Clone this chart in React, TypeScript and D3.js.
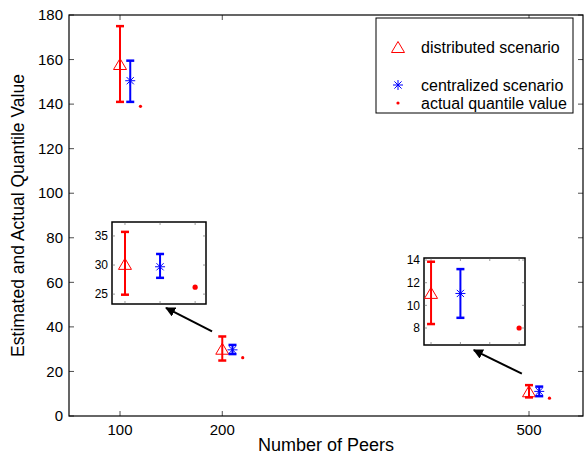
import * as d3 from "d3";
import React from "react";

// number of peers (x positions)
const peers = [100, 200, 500];

// distributed scenario: estimate with error range
const distMean = [158, 30.2, 11.1];
const distLow = [141, 24.9, 8.35];
const distHigh = [175, 35.7, 13.85];

// centralized scenario
const centMean = [150.5, 29.7, 11.05];
const centLow = [141, 27.8, 8.9];
const centHigh = [159.5, 31.9, 13.2];

// actual quantile value
const actual = [139, 26.2, 8.0];

const yTicks = [0, 20, 40, 60, 80, 100, 120, 140, 160, 180];
const xTicks = [100, 200, 500];

// zoomed insets
const inset200Ticks = [25, 30, 35];
const inset500Ticks = [8, 10, 12, 14];

const W = 587;
const H = 457;
const FONT = "'Liberation Sans', Arial, Helvetica, sans-serif";
const RED = "#ff0000";
const BLUE = "#0000ff";

const margin = { left: 69, right: 4, top: 15, bottom: 41 };

function Triangle({ x, y, color }: { x: number; y: number; color: string }) {
  const w = 6.5;
  const h = 5.5;
  return (
    <path
      d={`M${x},${y - h}L${x + w},${y + h}L${x - w},${y + h}Z`}
      fill="none"
      stroke={color}
      strokeWidth={1}
    />
  );
}

function Star({ x, y, color }: { x: number; y: number; color: string }) {
  const r = 5;
  const d = r * 0.72;
  return (
    <path
      d={`M${x - r},${y}H${x + r}M${x},${y - r}V${y + r}M${x - d},${y - d}L${x + d},${y + d}M${x - d},${y + d}L${x + d},${y - d}`}
      stroke={color}
      strokeWidth={1}
      fill="none"
    />
  );
}

function ErrBar({
  x,
  y1,
  y2,
  color,
  cap,
}: {
  x: number;
  y1: number;
  y2: number;
  color: string;
  cap: number;
}) {
  return (
    <g stroke={color} strokeWidth={2} fill="none">
      <line x1={x} x2={x} y1={y1} y2={y2} />
      <line x1={x - cap} x2={x + cap} y1={y1} y2={y1} strokeWidth={2.5} />
      <line x1={x - cap} x2={x + cap} y1={y2} y2={y2} strokeWidth={2.5} />
    </g>
  );
}

function Inset({
  idx,
  box,
  xDomain,
  yDomain,
  ticks,
  xs,
}: {
  idx: number;
  box: { x: number; y: number; w: number; h: number };
  xDomain: [number, number];
  yDomain: [number, number];
  ticks: number[];
  xs: number[];
}) {
  const sx = d3.scaleLinear().domain(xDomain).range([box.x, box.x + box.w]);
  const sy = d3.scaleLinear().domain(yDomain).range([box.y + box.h, box.y]);
  const xt = d3.range(xs[0], xDomain[1], xs[1] - xs[0]);
  return (
    <g>
      <rect x={box.x} y={box.y} width={box.w} height={box.h} fill="white" stroke="black" strokeWidth={1.5} />
      {ticks.map((t) => (
        <g key={t}>
          <line x1={box.x} x2={box.x + 3} y1={sy(t)} y2={sy(t)} stroke="#555" strokeWidth={0.6} />
          <line x1={box.x + box.w} x2={box.x + box.w - 3} y1={sy(t)} y2={sy(t)} stroke="#555" strokeWidth={0.6} />
          <text x={box.x - 4} y={sy(t)} dy="0.35em" textAnchor="end" fontSize={12}>
            {t}
          </text>
        </g>
      ))}
      {xt.map((t) => (
        <g key={t}>
          <line x1={sx(t)} x2={sx(t)} y1={box.y} y2={box.y + 3} stroke="#555" strokeWidth={0.6} />
          <line x1={sx(t)} x2={sx(t)} y1={box.y + box.h} y2={box.y + box.h - 3} stroke="#555" strokeWidth={0.6} />
        </g>
      ))}
      <ErrBar x={sx(xs[0])} y1={sy(distHigh[idx])} y2={sy(distLow[idx])} color={RED} cap={4} />
      <Triangle x={sx(xs[0])} y={sy(distMean[idx])} color={RED} />
      <ErrBar x={sx(xs[1])} y1={sy(centHigh[idx])} y2={sy(centLow[idx])} color={BLUE} cap={4} />
      <Star x={sx(xs[1])} y={sy(centMean[idx])} color={BLUE} />
      <circle cx={sx(xs[2])} cy={sy(actual[idx])} r={2.6} fill={RED} />
    </g>
  );
}

export default function App() {
  const x = d3
    .scaleLinear()
    .domain([50.1, 552.8])
    .range([margin.left, W - margin.right]);
  const y = d3
    .scaleLinear()
    .domain([0, 180])
    .range([H - margin.bottom, margin.top]);

  const x0 = margin.left;
  const x1 = W - margin.right;
  const y0 = H - margin.bottom;
  const y1 = margin.top;

  // arrow annotations in data coords
  const arrows = [
    { from: [190, 38], to: [145, 48.5] },
    { from: [493, 19], to: [446, 29.6] },
  ];

  return (
    <svg
      width={W}
      height={H}
      style={{ position: "absolute", left: 0, top: 0, background: "white" }}
      fontFamily={FONT}
    >
      <defs>
        <marker id="ah" viewBox="0 0 10 10" refX="9" refY="5" markerWidth="5" markerHeight="5" orient="auto">
          <path d="M0,0L10,5L0,10Z" fill="black" />
        </marker>
      </defs>
      <rect x={0} y={0} width={W} height={H} fill="white" />

      {/* ticks */}
      {yTicks.map((t) => (
        <g key={t}>
          <line x1={x0} x2={x0 + 5} y1={y(t)} y2={y(t)} stroke="black" strokeWidth={0.7} />
          <line x1={x1} x2={x1 - 5} y1={y(t)} y2={y(t)} stroke="black" strokeWidth={0.7} />
          <text x={x0 - 6} y={y(t)} dy="0.35em" textAnchor="end" fontSize={15}>
            {t}
          </text>
        </g>
      ))}
      {xTicks.map((t) => (
        <g key={t}>
          <line x1={x(t)} x2={x(t)} y1={y0} y2={y0 - 5} stroke="black" strokeWidth={0.7} />
          <line x1={x(t)} x2={x(t)} y1={y1} y2={y1 + 5} stroke="black" strokeWidth={0.7} />
          <text x={x(t)} y={y0 + 19} textAnchor="middle" fontSize={15}>
            {t}
          </text>
        </g>
      ))}
      <rect x={x0} y={y1} width={x1 - x0} height={y0 - y1} fill="none" stroke="black" strokeWidth={1.2} />

      {/* data */}
      {peers.map((p, i) => (
        <g key={p}>
          <ErrBar x={x(p)} y1={y(distHigh[i])} y2={y(distLow[i])} color={RED} cap={4} />
          <Triangle x={x(p)} y={y(distMean[i])} color={RED} />
          <ErrBar x={x(p + 10)} y1={y(centHigh[i])} y2={y(centLow[i])} color={BLUE} cap={4} />
          <Star x={x(p + 10)} y={y(centMean[i])} color={BLUE} />
          <circle cx={x(p + 20)} cy={y(actual[i])} r={1.6} fill={RED} />
        </g>
      ))}

      {/* insets */}
      <Inset
        idx={1}
        box={{ x: 112, y: 222, w: 94, h: 82 }}
        xDomain={[196.3, 223.1]}
        yDomain={[23.3, 37.4]}
        ticks={inset200Ticks}
        xs={[200, 210, 220]}
      />
      <Inset
        idx={2}
        box={{ x: 424, y: 258, w: 101, h: 87 }}
        xDomain={[497.6, 532]}
        yDomain={[6.5, 14.18]}
        ticks={inset500Ticks}
        xs={[500, 510, 530]}
      />

      {arrows.map((a, i) => (
        <line
          key={i}
          x1={x(a.from[0])}
          y1={y(a.from[1])}
          x2={x(a.to[0])}
          y2={y(a.to[1])}
          stroke="black"
          strokeWidth={2}
          markerEnd="url(#ah)"
        />
      ))}

      {/* legend */}
      <g>
        <rect x={376} y={18} width={197} height={95} fill="white" stroke="black" strokeWidth={1} />
        <Triangle x={398} y={47} color={RED} />
        <text x={421} y={47} dy="0.35em" fontSize={16}>
          distributed scenario
        </text>
        <Star x={398} y={85} color={BLUE} />
        <text x={421} y={85} dy="0.35em" fontSize={16}>
          centralized scenario
        </text>
        <circle cx={398} cy={103} r={1.6} fill={RED} />
        <text x={421} y={103} dy="0.35em" fontSize={16}>
          actual quantile value
        </text>
      </g>

      {/* axis labels */}
      <text x={(x0 + x1) / 2} y={H - 6} textAnchor="middle" fontSize={18}>
        Number of Peers
      </text>
      <text
        transform={`translate(24,${(y0 + y1) / 2}) rotate(-90)`}
        textAnchor="middle"
        fontSize={17.5}
      >
        Estimated and Actual Quantile Value
      </text>
    </svg>
  );
}
